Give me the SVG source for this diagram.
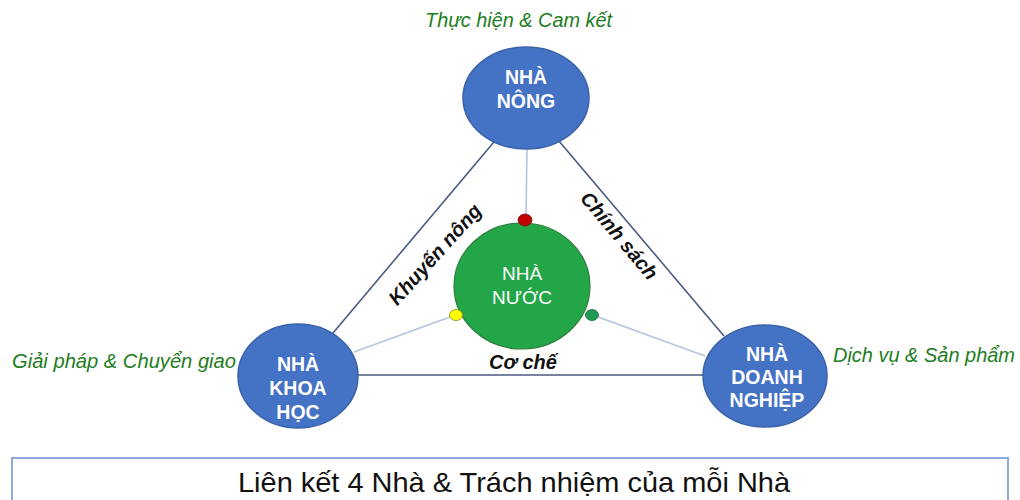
<svg xmlns="http://www.w3.org/2000/svg" width="1020" height="500" viewBox="0 0 1020 500">
<style>
.node{fill:#4472C4;stroke:#3A62AA;stroke-width:1.5}
.nl{font-family:"Liberation Sans",Arial,sans-serif;font-weight:bold;font-size:19.5px;fill:#fff;text-anchor:middle}
.gr{font-family:"Liberation Sans",Arial,sans-serif;font-style:italic;font-size:20px;fill:#1E7D22}
.edge{stroke:#4A5A82;stroke-width:1.6;fill:none}
.spoke{stroke:#B4C3E0;stroke-width:1.6;fill:none}
.el{font-family:"Liberation Sans",Arial,sans-serif;font-weight:bold;font-style:italic;font-size:20px;fill:#111;text-anchor:middle}
</style>
<rect width="1020" height="500" fill="#fff"/>
<g id="connectors">
<line class="edge" x1="499" y1="136" x2="333" y2="333"/>
<line class="edge" x1="553" y1="134" x2="724" y2="336"/>
<line class="edge" x1="354" y1="375" x2="704" y2="375"/>
<line class="spoke" x1="527" y1="148" x2="526" y2="214"/>
<line class="spoke" x1="354" y1="352" x2="450" y2="317"/>
<line class="spoke" x1="705" y1="356" x2="598" y2="317"/>
<text class="el" transform="translate(440,259) rotate(-48)">Khuyến nông</text>
<text class="el" transform="translate(614,240) rotate(50)">Chính sách</text>
<text class="el" x="523" y="369">Cơ chế</text>
</g>
<g id="nha-nuoc">
<ellipse cx="522" cy="286" rx="68" ry="63" fill="#22A648" stroke="#2E7D3A" stroke-width="1.2"/>
<text x="522" y="280" font-family="'Liberation Sans',Arial,sans-serif" font-size="19" fill="#fff" text-anchor="middle">NHÀ</text>
<text x="522" y="304" font-family="'Liberation Sans',Arial,sans-serif" font-size="19" fill="#fff" text-anchor="middle">NƯỚC</text>
<ellipse cx="525" cy="220" rx="7" ry="6" fill="#C00000" stroke="#7A1010" stroke-width="0.8"/>
<ellipse cx="456" cy="315" rx="6.5" ry="5.5" fill="#FFFF00" stroke="#8A8A20" stroke-width="0.8"/>
<ellipse cx="592" cy="315" rx="6.5" ry="5.5" fill="#1E9A55" stroke="#1A6A40" stroke-width="0.8"/>
</g>
<g id="nha-nong">
<ellipse class="node" cx="526" cy="98" rx="63" ry="51"/>
<text class="nl" x="526" y="84">NHÀ</text>
<text class="nl" x="526" y="108">NÔNG</text>
<text class="gr" x="425" y="27" textLength="187" lengthAdjust="spacingAndGlyphs">Thực hiện &amp; Cam kết</text>
</g>
<g id="nha-khoa-hoc">
<ellipse class="node" cx="298" cy="376" rx="60" ry="52"/>
<text class="nl" x="298" y="371">NHÀ</text>
<text class="nl" x="298" y="395">KHOA</text>
<text class="nl" x="298" y="419">HỌC</text>
<text class="gr" x="12" y="368" textLength="224" lengthAdjust="spacingAndGlyphs">Giải pháp &amp; Chuyển giao</text>
</g>
<g id="nha-doanh-nghiep">
<ellipse class="node" cx="765" cy="376" rx="62" ry="51"/>
<text class="nl" x="767" y="361">NHÀ</text>
<text class="nl" x="767" y="384">DOANH</text>
<text class="nl" x="767" y="407">NGHIỆP</text>
<text class="gr" x="833" y="362" textLength="182" lengthAdjust="spacingAndGlyphs">Dịch vụ &amp; Sản phẩm</text>
</g>
<g id="title">
<rect x="12" y="458" width="996" height="60" fill="#fff" stroke="#8EAADB" stroke-width="2"/>
<text x="514" y="492" font-family="'Liberation Sans',Arial,sans-serif" font-size="28" fill="#111" text-anchor="middle" textLength="552" lengthAdjust="spacingAndGlyphs">Liên kết 4 Nhà &amp; Trách nhiệm của mỗi Nhà</text>
</g>
</svg>
